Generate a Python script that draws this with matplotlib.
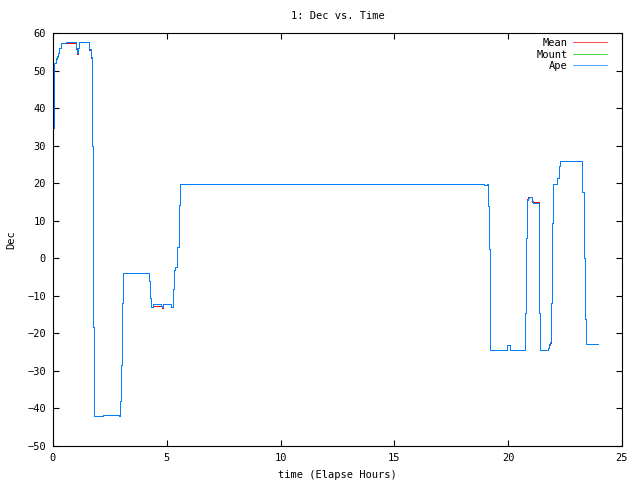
import matplotlib
matplotlib.use("Agg")
import matplotlib.pyplot as plt

# step-post data: value holds from time[i] until time[i+1]
time = [0.00, 0.01, 0.06, 0.12, 0.16, 0.23, 0.26, 0.34, 0.56, 1.00, 1.05, 1.11, 1.16,
        1.59, 1.66, 1.73, 1.77, 1.81, 2.21, 2.89, 2.94, 2.99, 3.03, 3.08,
        4.23, 4.28, 4.31, 4.41, 4.73, 4.79, 4.85, 5.20, 5.27, 5.33, 5.37,
        5.46, 5.52, 5.59, 18.94, 19.06, 19.10, 19.16, 19.19, 19.21, 19.95, 20.10,
        20.74, 20.78, 20.83, 20.88, 20.93, 21.06, 21.10, 21.34, 21.37, 21.41,
        21.75, 21.78, 21.82, 21.88, 21.92, 21.97, 22.16, 22.22, 22.26,
        23.26, 23.33, 23.37, 23.40, 23.93]
ape = [-17.2, 34.6, 51.9, 53.3, 53.9, 54.6, 55.9, 57.3, 57.7, 56.0, 54.6, 56.0, 57.7,
       55.7, 53.7, 29.9, -18.3, -42.1, -41.7, -42.1, -38.1, -28.5, -11.9, -3.8,
       -6.1, -10.7, -13.0, -12.3, -12.6, -13.0, -12.3, -13.0, -8.1, -3.2, -2.3,
       3.0, 14.1, 19.9, 19.5, 19.9, 13.9, 2.6, -13.9, -24.5, -23.2, -24.5,
       -14.7, 5.3, 15.5, 16.1, 16.3, 15.0, 14.6, 4.8, -14.7, -24.5,
       -23.8, -22.8, -22.3, -11.8, 9.4, 19.9, 21.3, 24.5, 25.9,
       17.7, 0.0, -16.1, -22.9, -22.9]
mean = [-17.2, 34.6, 51.9, 53.3, 53.9, 54.6, 55.9, 57.3, 57.4, 55.7, 54.3, 56.0, 57.7,
        55.4, 53.4, 29.9, -18.3, -42.1, -41.7, -42.1, -38.1, -28.5, -11.9, -3.8,
        -6.1, -10.7, -13.0, -12.6, -12.6, -13.3, -12.3, -13.0, -8.1, -3.2, -2.3,
        3.0, 14.1, 19.9, 19.5, 19.9, 13.9, 2.6, -13.9, -24.5, -23.2, -24.5,
        -14.7, 5.3, 15.8, 16.4, 16.3, 15.3, 14.9, 4.8, -14.7, -24.5,
        -24.0, -23.1, -22.6, -11.8, 9.4, 19.9, 21.3, 24.5, 25.9,
        17.7, 0.0, -16.1, -22.9, -22.9]
mount = [-17.2, 34.6, 51.9, 53.1, 53.7, 54.6, 55.9, 57.3, 57.7, 56.0, 54.6, 56.0, 57.7,
         55.7, 53.7, 29.9, -18.3, -42.1, -41.7, -42.1, -38.1, -28.5, -11.9, -3.8,
         -6.1, -10.7, -13.0, -12.3, -12.6, -13.0, -12.3, -13.0, -8.1, -3.2, -2.3,
         3.0, 14.1, 19.9, 19.5, 19.9, 13.9, 2.6, -13.9, -24.5, -23.2, -24.5,
         -14.7, 5.3, 15.5, 16.1, 16.3, 15.0, 14.6, 4.8, -14.7, -24.5,
         -23.8, -22.8, -22.3, -11.8, 9.4, 19.9, 21.3, 24.5, 25.9,
         17.7, 0.0, -16.1, -22.9, -22.9]

xticks = [0, 5, 10, 15, 20, 25]
yticks = [-50, -40, -30, -20, -10, 0, 10, 20, 30, 40, 50, 60]

plt.rcParams['font.family'] = ['DejaVu Sans Mono']
fs = 7.5
lw = 0.5

fig = plt.figure(figsize=(6.4, 4.8), dpi=100)
ax = fig.add_axes([53/640, 34/480, (622-53)/640, (446-33)/480])

ax.plot(time, mean, color='#ff0000', lw=lw, drawstyle='steps-post', antialiased=False, label='Mean')
ax.plot(time, mount, color='#00c000', lw=lw, drawstyle='steps-post', antialiased=False, label='Mount')
ax.plot(time, ape, color='#0080ff', lw=lw, drawstyle='steps-post', antialiased=False, label='Ape')

ax.set_xlim(0, 25)
ax.set_ylim(-50, 60)
ax.set_xticks(xticks)
ax.set_yticks(yticks)
ax.tick_params(direction='in', length=4.5, width=0.8, top=True, right=True, labelsize=fs, pad=5)
for s in ax.spines.values():
    s.set_linewidth(0.8)

ax.set_title('1: Dec vs. Time', fontsize=fs, pad=10)
ax.set_xlabel('time (Elapse Hours)', fontsize=fs, labelpad=5)
ax.set_ylabel('Dec', fontsize=fs, labelpad=8)

ax.legend(loc='upper right', bbox_to_anchor=(0.981, 0.998), frameon=False, markerfirst=False,
          fontsize=fs, handlelength=3.3, labelspacing=0.15, borderaxespad=0.0,
          handletextpad=0.5)

fig.savefig('out.png', dpi=100)
